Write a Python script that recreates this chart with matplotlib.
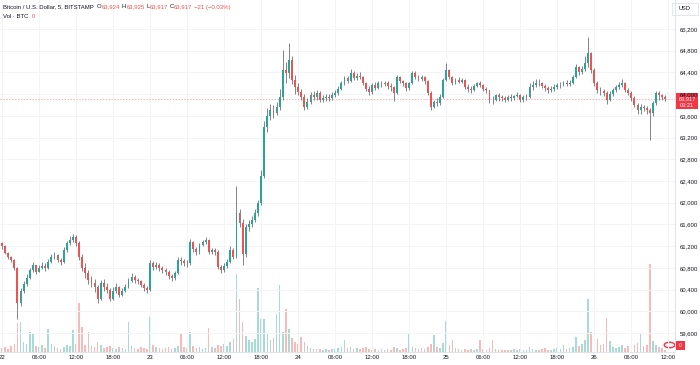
import matplotlib
matplotlib.use("Agg")
import matplotlib.pyplot as plt
from matplotlib.patches import Rectangle, Circle
import numpy as np

# ---- data: 30-minute candles from 22 00:00 (hours since start = index * 0.5)
close = [61200, 61080, 61000, 60950, 60800, 60150, 60380, 60500, 60620, 60760, 60850, 60730,
         60800, 60830, 60790, 60900, 61000, 61040, 60950, 60900, 61130, 61250, 61310, 61370,
         61260, 61000, 60800, 60700, 60580, 60520, 60450, 60220, 60520, 60450, 60390, 60220,
         60380, 60450, 60300, 60380, 60450, 60560, 60630, 60580, 60560, 60490, 60430, 60390,
         60890, 60820, 60850, 60800, 60760, 60720, 60650, 60610, 60700, 60950, 60920, 60890,
         60880, 61280, 61150, 61090, 61220, 61280, 61310, 61090, 61120, 61090, 60820, 60760,
         60830, 60910, 61130, 61000, 61810, 61630, 61050, 61550, 61600, 61680, 61810, 61990,
         62500, 63390, 63600, 63700, 63650, 63760, 63950, 64440, 64390, 64630, 64260, 64130,
         64040, 63950, 63760, 63850, 63980, 63940, 64020, 63890, 63920, 63950, 63930, 63980,
         64020, 64100, 64200, 64290, 64250, 64390, 64290, 64340, 64310, 64200, 64100, 64040,
         64170, 64120, 64200, 64180, 64200, 64150, 64130, 64020, 64310, 64240, 64200, 64110,
         64200, 64390, 64310, 64280, 64310, 64240, 64020, 63760, 63860, 63830, 63950, 64260,
         64440, 64310, 64200, 64260, 64230, 64260, 64130, 64100, 64070, 64150, 64200, 64170,
         64100, 64070, 63900, 63890, 63980, 63940, 63930, 63890, 63950, 63930, 63960, 63980,
         63890, 63950, 63950, 64130, 64170, 64210, 64200, 64150, 64110, 64070, 64090, 64130,
         64160, 64170, 64200, 64190, 64200, 64310, 64500, 64400, 64470, 64570, 64750, 64440,
         64200, 64070, 64050, 64020, 63900, 64000, 64070, 64130, 64160, 64200, 64070, 64020,
         63930, 63800, 63700, 63760, 63740, 63700, 63650, 63830, 64020, 63980, 63945, 63917]

high = [61280, 61220, 61100, 61020, 60960, 60820, 60420, 60560, 60680, 60800, 60900, 60860,
        60860, 60900, 60880, 60960, 61060, 61100, 61060, 60980, 61180, 61300, 61380, 61420,
        61400, 61300, 61050, 60880, 60760, 60650, 60600, 60480, 60580, 60600, 60520, 60430,
        60440, 60520, 60470, 60420, 60500, 60620, 60700, 60660, 60620, 60580, 60520, 60460,
        60940, 60920, 60900, 60880, 60840, 60800, 60760, 60680, 60740, 61000, 61000, 60960,
        60950, 61330, 61300, 61180, 61260, 61320, 61360, 61330, 61160, 61160, 61120, 60860,
        60880, 60960, 61200, 61160, 62300, 61880, 61700, 61600, 61680, 61760, 61880, 62050,
        62600, 63500, 63750, 63820, 63800, 63850, 64100, 64820, 64600, 64950, 64700, 64350,
        64200, 64100, 64000, 63920, 64030, 64050, 64080, 64060, 63980, 64000, 64010, 64030,
        64070, 64140, 64250, 64340, 64330, 64460, 64420, 64380, 64400, 64330, 64230, 64150,
        64200, 64220, 64240, 64250, 64250, 64240, 64200, 64150, 64350, 64340, 64260, 64220,
        64230, 64420, 64420, 64360, 64350, 64340, 64260, 64050, 63900, 63920, 64000, 64300,
        64580, 64460, 64330, 64300, 64310, 64300, 64280, 64180, 64140, 64190, 64230, 64240,
        64190, 64130, 64080, 63960, 64010, 64020, 63990, 63960, 63990, 64000, 63990, 64040,
        64000, 63990, 64000, 64200, 64250, 64280, 64270, 64230, 64190, 64140, 64150, 64180,
        64210, 64230, 64240, 64260, 64260, 64360, 64560, 64520, 64520, 64700, 65060, 64780,
        64480, 64250, 64130, 64100, 64060, 64050, 64110, 64170, 64220, 64280, 64220, 64110,
        64060, 63960, 63840, 63820, 63800, 63780, 63740, 63880, 64060, 64060, 64010, 63980]

low = [61150, 61050, 60960, 60900, 60760, 59850, 60100, 60340, 60460, 60600, 60720, 60690,
       60740, 60770, 60740, 60770, 60880, 60960, 60900, 60860, 60880, 61100, 61220, 61280,
       61200, 60950, 60740, 60620, 60500, 60440, 60360, 60150, 60200, 60380, 60340, 60180,
       60200, 60340, 60260, 60280, 60360, 60430, 60540, 60520, 60500, 60440, 60380, 60340,
       60370, 60760, 60780, 60740, 60700, 60660, 60600, 60560, 60580, 60680, 60860, 60840,
       60820, 60860, 61100, 61040, 61060, 61200, 61240, 61060, 61060, 61040, 60780, 60700,
       60720, 60800, 60880, 60960, 60980, 61560, 60850, 61000, 61480, 61560, 61640, 61760,
       61950, 62450, 63300, 63520, 63560, 63620, 63700, 63900, 64200, 64300, 64180, 64000,
       63980, 63890, 63700, 63720, 63820, 63890, 63900, 63850, 63860, 63880, 63880, 63900,
       63950, 63990, 64080, 64160, 64200, 64230, 64260, 64260, 64270, 64160, 64060, 63980,
       64000, 64080, 64100, 64130, 64140, 64100, 64060, 63880, 64000, 64200, 64150, 64060,
       64080, 64180, 64280, 64240, 64250, 64180, 63980, 63700, 63740, 63780, 63800, 63920,
       64240, 64280, 64160, 64180, 64200, 64200, 64100, 64040, 64020, 64050, 64130, 64130,
       64060, 64020, 63840, 63820, 63870, 63880, 63880, 63850, 63870, 63880, 63900, 63940,
       63850, 63860, 63900, 63930, 64080, 64130, 64150, 64120, 64060, 64020, 64040, 64060,
       64100, 64110, 64140, 64140, 64150, 64180, 64300, 64360, 64370, 64430, 64500, 64380,
       64150, 64020, 63990, 63960, 63820, 63880, 63960, 64030, 64090, 64130, 64030, 63980,
       63880, 63760, 63640, 63640, 63680, 63640, 63150, 63600, 63800, 63900, 63900, 63880]

volume = [4, 5, 3, 6, 8, 29, 30, 10, 8, 20, 18, 6,
          5, 7, 4, 23, 8, 6, 4, 3, 5, 7, 6, 22,
          8, 49, 25, 7, 20, 6, 5, 10, 7, 4, 5, 6,
          4, 3, 5, 4, 3, 30, 6, 4, 3, 5, 4, 3,
          35, 7, 5, 4, 3, 4, 5, 3, 4, 6, 19, 5,
          4, 20, 6, 4, 5, 3, 4, 24, 5, 4, 7, 6,
          8, 6, 10, 13, 78, 53, 30, 16, 12, 10, 13, 64,
          33, 33, 18, 12, 14, 38, 67, 20, 43, 23, 14, 10,
          8, 15, 10, 6, 4, 3, 3, 3, 2, 3, 2, 3,
          3, 4, 5, 12, 4, 5, 3, 4, 3, 4, 5, 3,
          2, 3, 2, 3, 2, 3, 2, 5, 4, 2, 3, 4,
          19, 5, 4, 3, 4, 3, 5, 8, 17, 5, 4, 9,
          31, 7, 12, 4, 3, 2, 3, 2, 3, 2, 3, 12,
          3, 2, 4, 12, 3, 2, 2, 2, 2, 2, 3, 2,
          3, 2, 2, 5, 3, 2, 2, 3, 4, 2, 2, 3,
          4, 3, 7, 3, 4, 5, 15, 6, 8, 12, 53, 20,
          32, 13, 7, 8, 34, 11, 5, 4, 5, 7, 4, 6,
          16, 7, 9, 18, 6, 7, 88, 11, 7, 5, 4, 2]

first_open = 61250
last_price = 63917

time_ticks = [0, 6, 12, 18, 24, 30, 36, 42, 48, 54, 60, 66, 72, 78, 84, 90, 96, 102, 108]
time_labels = ["22", "06:00", "12:00", "18:00", "23", "06:00", "12:00", "18:00", "24",
               "06:00", "12:00", "18:00", "25", "06:00", "12:00", "18:00", "26", "06:00", "12:00"]
price_ticks = [59600, 60000, 60400, 60800, 61200, 61600, 62000, 62400, 62800,
               63200, 63600, 64000, 64400, 64800, 65200]

# ---- derived
close = np.array(close, float)
high = np.array(high, float)
low = np.array(low, float)
volume = np.array(volume, float)
opn = np.concatenate([[first_open], close[:-1]])
high = np.maximum(high, np.maximum(opn, close))
low = np.minimum(low, np.minimum(opn, close))
t = np.arange(len(close)) * 0.5
up = close >= opn

UP = "#26a69a"
DN = "#ef5350"
TXT = "#131722"
GRID = "#f3f4f8"
FONT = "Liberation Sans"

W, H = 700, 365
fig = plt.figure(figsize=(W / 100, H / 100), dpi=100)
fig.patch.set_facecolor("white")
ax_l, ax_r, ax_t, ax_b = 0, 675, 0, 352
rect = [ax_l / W, 1 - ax_b / H, (ax_r - ax_l) / W, (ax_b - ax_t) / H]

vax = fig.add_axes(rect)
ax = fig.add_axes(rect, sharex=vax)
vax.set_zorder(0)
ax.set_zorder(1)
ax.patch.set_visible(False)

px_per_h = 6.17
xmin = -2 / px_per_h
xmax = (675 - 2) / px_per_h
ax.set_xlim(xmin, xmax)

ymin = 64000 - (352 - 94.1) * 18.42
ymax = 64000 + 94.1 * 18.42
ax.set_ylim(ymin, ymax)

# volume
vcol = np.where(up, UP, DN)
vax.bar(t, volume, width=0.26, color=vcol, alpha=0.4, linewidth=0)
vax.set_ylim(0, 352)
vax.set_yticks([])
for s in vax.spines.values():
    s.set_visible(False)
vax.tick_params(axis="x", length=0, labelbottom=False)

# grid
for p in price_ticks:
    ax.axhline(p, color=GRID, lw=0.7, zorder=0)
for tt in time_ticks:
    ax.axvline(tt, color=GRID, lw=0.7, zorder=0)

# candles
ccol = np.where(up, UP, DN)
ax.vlines(t, low, high, color="#50535e", lw=0.5, zorder=2)
body_lo = np.minimum(opn, close)
body_h = np.maximum(np.abs(close - opn), 8)
ax.bar(t, body_h, bottom=body_lo, width=0.3, color=ccol, linewidth=0, zorder=3)

# current price line
ax.axhline(last_price, color=DN, lw=0.7, alpha=0.45, ls=(0, (1.5, 1.5)), zorder=1)

# axes styling
ax.set_xticks(time_ticks)
ax.set_xticklabels(time_labels)
ax.yaxis.tick_right()
ax.set_yticks(price_ticks)
ax.set_yticklabels([f"{p:,}" for p in price_ticks])
ax.tick_params(axis="x", length=0, pad=2.3, labelsize=4.3, labelcolor=TXT)
ax.tick_params(axis="y", length=0, pad=3.6, labelsize=4.3, labelcolor=TXT)
for lab in ax.get_xticklabels() + ax.get_yticklabels():
    lab.set_fontfamily(FONT)
for k in ["top", "left"]:
    ax.spines[k].set_visible(False)
for k in ["bottom", "right"]:
    ax.spines[k].set_color("#e0e3eb")
    ax.spines[k].set_linewidth(0.7)

# header texts
fs = 4.3
t1 = fig.text(3 / W, 1 - 9.5 / H, "Bitcoin / U.S. Dollar, 5, BITSTAMP", fontsize=fs,
              color=TXT, family=FONT, va="bottom", ha="left")

def chain(prev, s, color, gap=0.0):
    return fig.add_artist(plt.Annotation(s, xy=(1, 0), xycoords=prev, xytext=(gap, 0),
                                         textcoords="offset points", fontsize=fs,
                                         color=color, family=FONT, va="bottom", ha="left"))

prev = t1
pieces = [("O", TXT, 2.4), ("63,924", DN, 0), ("H", TXT, 1.3), ("63,925", DN, 0),
          ("L", TXT, 1.3), ("63,917", DN, 0), ("C", TXT, 1.3), ("63,917", DN, 0),
          ("\u221221 (\u22120.03%)", DN, 1.3)]
for s, c, g in pieces:
    prev = chain(prev, s, c, g)

t2 = fig.text(3 / W, 1 - 19.5 / H, "Vol \u00b7 BTC", fontsize=fs, color=TXT, family=FONT,
              va="bottom", ha="left")
chain(t2, "0", DN, 2.4)

# USD box
fig.add_artist(Rectangle((672 / W, 1 - 15 / H), 26 / W, 12 / H, transform=fig.transFigure,
                         facecolor="white", edgecolor="#e0e3eb", lw=0.6))
fig.text(685 / W, 1 - 9 / H, "USD", fontsize=4.1, color=TXT, family=FONT,
         ha="center", va="center")

# current price label
py = 94.1 + (64000 - last_price) / 18.42
fig.add_artist(Rectangle((676 / W, 1 - (py + 10) / H), 22 / W, 16 / H,
                         transform=fig.transFigure, facecolor="#f23645", edgecolor="none"))
fig.text(687 / W, 1 - (py + 0.3) / H, f"{last_price:,}", fontsize=4.1, color="white",
         family=FONT, ha="center", va="center")
fig.text(687 / W, 1 - (py + 6.8) / H, "03:21", fontsize=4.1, color="white",
         family=FONT, ha="center", va="center")

# volume label & logo
fig.add_artist(Rectangle((676 / W, 1 - 350 / H), 9 / W, 9 / H, transform=fig.transFigure,
                         facecolor="#f23645", edgecolor="none"))
fig.text(680.5 / W, 1 - 345.5 / H, "0", fontsize=3.5, color="white", family=FONT,
         ha="center", va="center")
fig.add_artist(Circle((669.5 / W, 1 - 345 / H), 0.0075, transform=fig.transFigure,
                      facecolor="#f5f5f5", edgecolor="#f23645", lw=1.0))

fig.savefig("out.png", dpi=100, facecolor="white")
